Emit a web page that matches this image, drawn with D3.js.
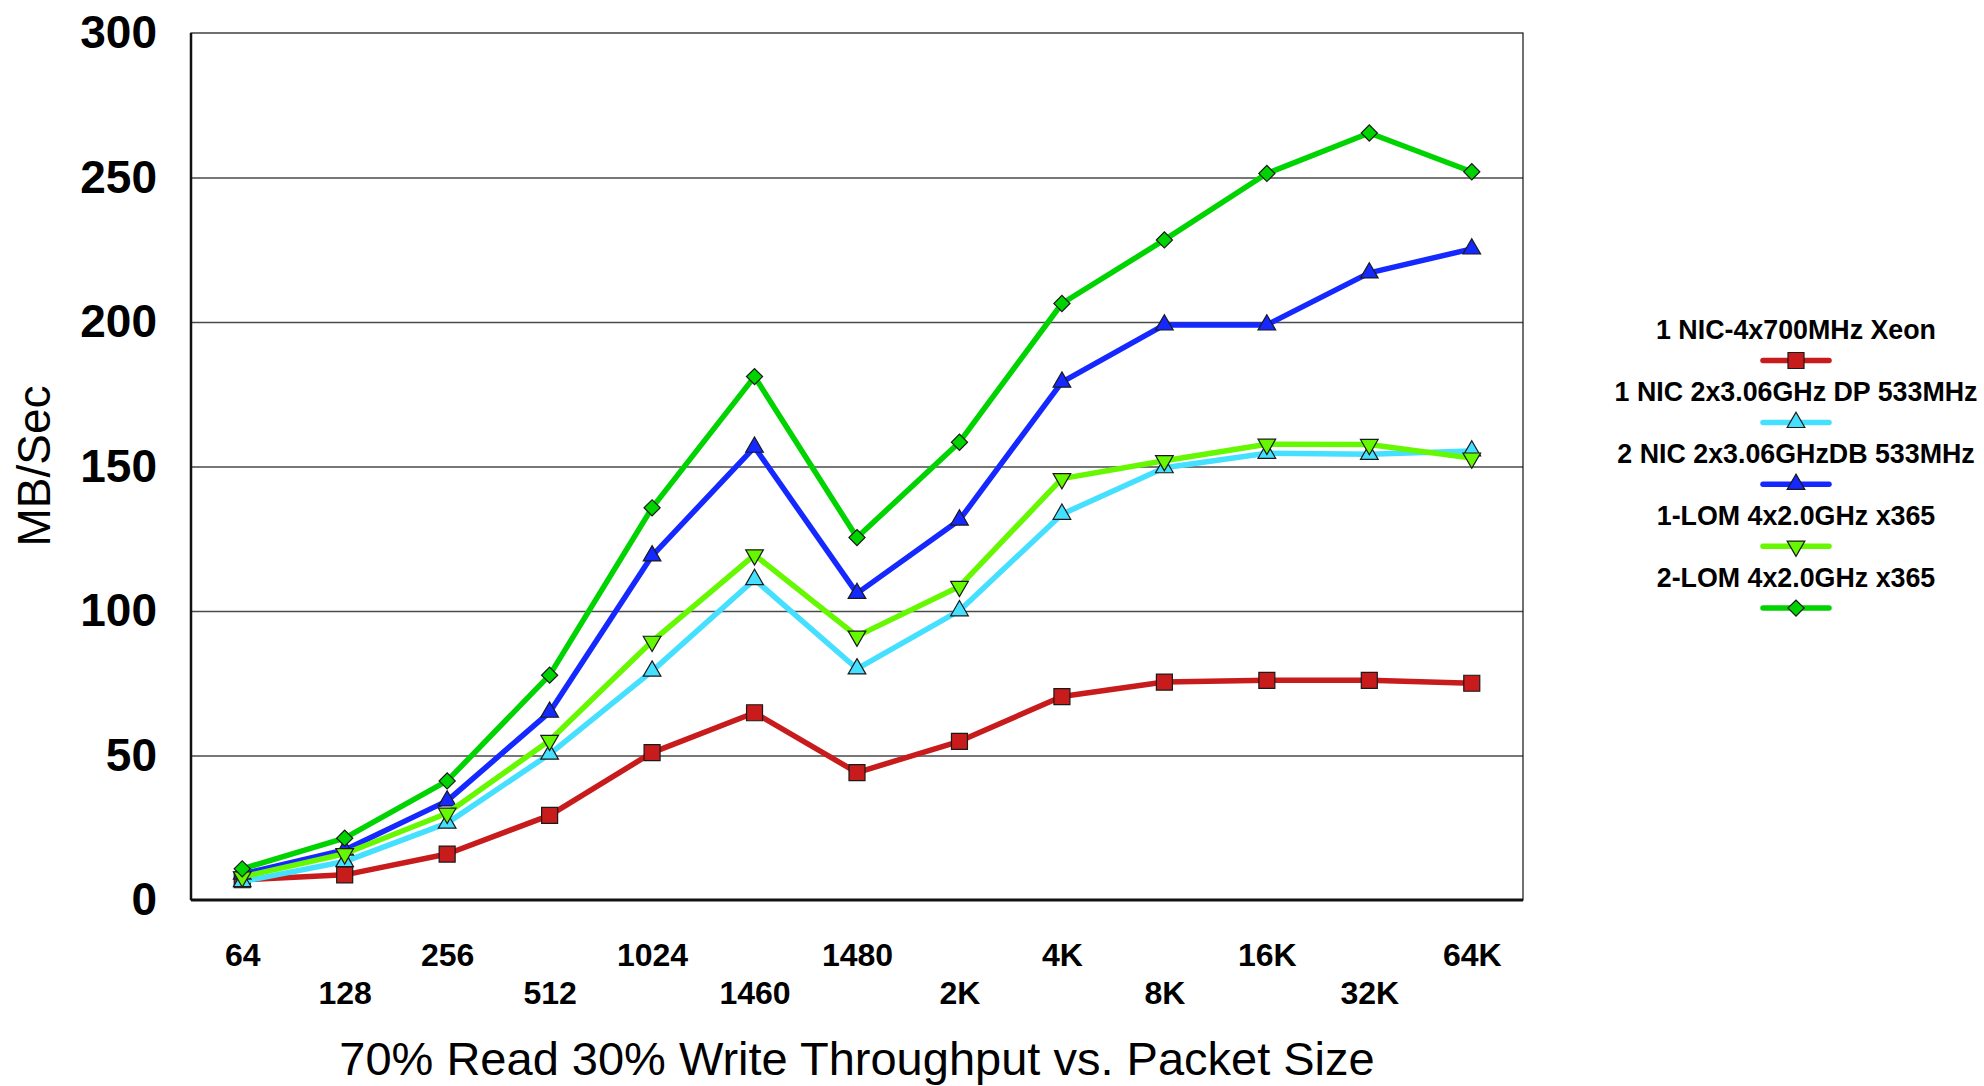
<!DOCTYPE html>
<html>
<head>
<meta charset="utf-8">
<script src="https://cdn.jsdelivr.net/npm/d3@7"></script>
<style>
  body { margin: 0; background: #fff; }
  text { font-family: "Liberation Sans", Arial, Helvetica, sans-serif; }
</style>
</head>
<body>
<div id="chart"></div>
<script>
var sizes = ["64", "128", "256", "512", "1024", "1460", "1480", "2K", "4K", "8K", "16K", "32K", "64K"];

var nic4x700 = [7, 8.7, 15.9, 29.3, 51, 64.8, 44.1, 54.9, 70.4, 75.4, 76, 76, 75];
var nic1dp = [6.4, 13.3, 26.6, 50.5, 79.2, 110.9, 80, 100.1, 133.5, 149.6, 154.6, 154.2, 155.4];
var nic2db = [9, 17.3, 34.3, 65, 119.1, 156.7, 106.1, 131.5, 179.2, 199, 199, 217, 225.3];
var lom1 = [8, 16, 30, 55.2, 89.5, 119.4, 91.3, 108.5, 145.8, 152, 157.7, 157.6, 152.9];
var lom2 = [10.8, 21.4, 41.2, 77.8, 135.7, 181.1, 125.4, 158.4, 206.4, 228.4, 251.4, 265.4, 252];

var seriesNames = ["1 NIC-4x700MHz Xeon", "1 NIC 2x3.06GHz DP 533MHz", "2 NIC 2x3.06GHzDB 533MHz", "1-LOM 4x2.0GHz x365", "2-LOM 4x2.0GHz x365"];
var yTicks = [0, 50, 100, 150, 200, 250, 300];

var w = 1984;
var h = 1086;
var padL = 191, padR = 1523, padT = 33, padB = 900;

var series = [
	{name: seriesNames[0], values: nic4x700, color: "#c81b1b", shape: "square"},
	{name: seriesNames[1], values: nic1dp, color: "#45e0ff", shape: "up"},
	{name: seriesNames[2], values: nic2db, color: "#1428ff", shape: "up"},
	{name: seriesNames[3], values: lom1, color: "#66f800", shape: "down"},
	{name: seriesNames[4], values: lom2, color: "#00d400", shape: "diamond"}
];

var svg = d3.select("#chart")
	.append("svg")
	.attr("width", w)
	.attr("height", h)
	.style("background", "#FFFFFF");

var xscale = d3.scalePoint()
	.domain(sizes)
	.range([padL, padR])
	.padding(0.5);

var yscale = d3.scaleLinear()
	.domain([0, 300])
	.range([padB, padT]);

// gridlines
svg.append("g")
	.attr("transform", "translate(" + padL + ",0)")
	.call(d3.axisLeft(yscale).tickValues(yTicks.slice(1, -1)).tickSize(-(padR - padL)).tickFormat(""))
	.call(function(g){ g.select(".domain").remove(); })
	.selectAll("line")
	.attr("stroke", "#4a4a4a")
	.attr("stroke-width", 1.3);

// frame
svg.append("rect")
	.attr("x", padL).attr("y", padT)
	.attr("width", padR - padL).attr("height", padB - padT)
	.attr("fill", "none")
	.attr("stroke", "#111")
	.attr("stroke-width", 1.2);
svg.append("line")
	.attr("x1", padL).attr("x2", padL).attr("y1", padT).attr("y2", padB)
	.attr("stroke", "#111").attr("stroke-width", 2.5);
svg.append("line")
	.attr("x1", padL).attr("x2", padR).attr("y1", padB).attr("y2", padB)
	.attr("stroke", "#111").attr("stroke-width", 3);

// y axis labels
var yAxis = svg.append("g")
	.attr("transform", "translate(" + padL + ",0)")
	.call(d3.axisLeft(yscale).tickValues(yTicks).tickSize(0).tickPadding(34));
yAxis.select(".domain").remove();
yAxis.selectAll("text")
	.attr("font-family", "Liberation Sans, Arial, sans-serif")
	.attr("font-size", 46)
	.attr("font-weight", "bold")
	.attr("fill", "#000");

// x axis labels, staggered on two rows
var xAxis = svg.append("g")
	.attr("transform", "translate(0," + padB + ")")
	.call(d3.axisBottom(xscale).tickSize(0).tickPadding(0));
xAxis.select(".domain").remove();
xAxis.selectAll("text")
	.attr("font-family", "Liberation Sans, Arial, sans-serif")
	.attr("font-size", 32)
	.attr("font-weight", "bold")
	.attr("fill", "#000")
	.attr("dy", null)
	.attr("y", function(d, i){ return i % 2 == 0 ? 66 : 104; });

// titles
svg.append("text")
	.attr("x", (padL + padR) / 2)
	.attr("y", 1075)
	.attr("text-anchor", "middle")
	.attr("font-size", 47)
	.attr("fill", "#000")
	.text("70% Read 30% Write Throughput vs. Packet Size");

svg.append("text")
	.attr("transform", "translate(50,466) rotate(-90)")
	.attr("text-anchor", "middle")
	.attr("font-size", 46)
	.attr("fill", "#000")
	.text("MB/Sec");

function markerPath(shape) {
	if (shape == "square") return d3.symbol().type(d3.symbolSquare).size(256)();
	if (shape == "diamond") return d3.symbol().type(d3.symbolSquare).size(130)();
	return d3.symbol().type(d3.symbolTriangle).size(135)();
}
function markerRot(shape) {
	if (shape == "diamond") return " rotate(45)";
	if (shape == "down") return " rotate(180)";
	return "";
}

var line = d3.line()
	.x(function(d, i){ return xscale(sizes[i]); })
	.y(function(d){ return yscale(d); });

series.forEach(function(s){
	var g = svg.append("g");
	g.append("path")
		.attr("d", line(s.values))
		.attr("fill", "none")
		.attr("stroke", s.color)
		.attr("stroke-width", 5.5)
		.attr("stroke-linejoin", "round");
	g.selectAll("path.pt")
		.data(s.values)
		.enter()
		.append("path")
		.attr("class", "pt")
		.attr("d", markerPath(s.shape))
		.attr("transform", function(d, i){ return "translate(" + xscale(sizes[i]) + "," + yscale(d) + ")" + markerRot(s.shape); })
		.attr("fill", s.color)
		.attr("stroke", "#1a1a1a")
		.attr("stroke-width", 1.2);
});

// legend
var lx = 1796;
var legend = svg.selectAll("g.leg")
	.data(series)
	.enter()
	.append("g")
	.attr("class", "leg")
	.attr("transform", function(d, i){ return "translate(" + lx + "," + (339 + i * 61.9) + ")"; });

legend.append("text")
	.attr("text-anchor", "middle")
	.attr("font-size", 26.8)
	.attr("font-weight", "bold")
	.attr("fill", "#000")
	.text(function(d){ return d.name; });
legend.append("line")
	.attr("x1", -33).attr("x2", 33)
	.attr("y1", 21.5).attr("y2", 21.5)
	.attr("stroke", function(d){ return d.color; })
	.attr("stroke-width", 5.5)
	.attr("stroke-linecap", "round");
legend.append("path")
	.attr("d", function(d){ return markerPath(d.shape); })
	.attr("transform", function(d){ return "translate(0,21.5)" + markerRot(d.shape); })
	.attr("fill", function(d){ return d.color; })
	.attr("stroke", "#1a1a1a")
	.attr("stroke-width", 1.2);
</script>
</body>
</html>
